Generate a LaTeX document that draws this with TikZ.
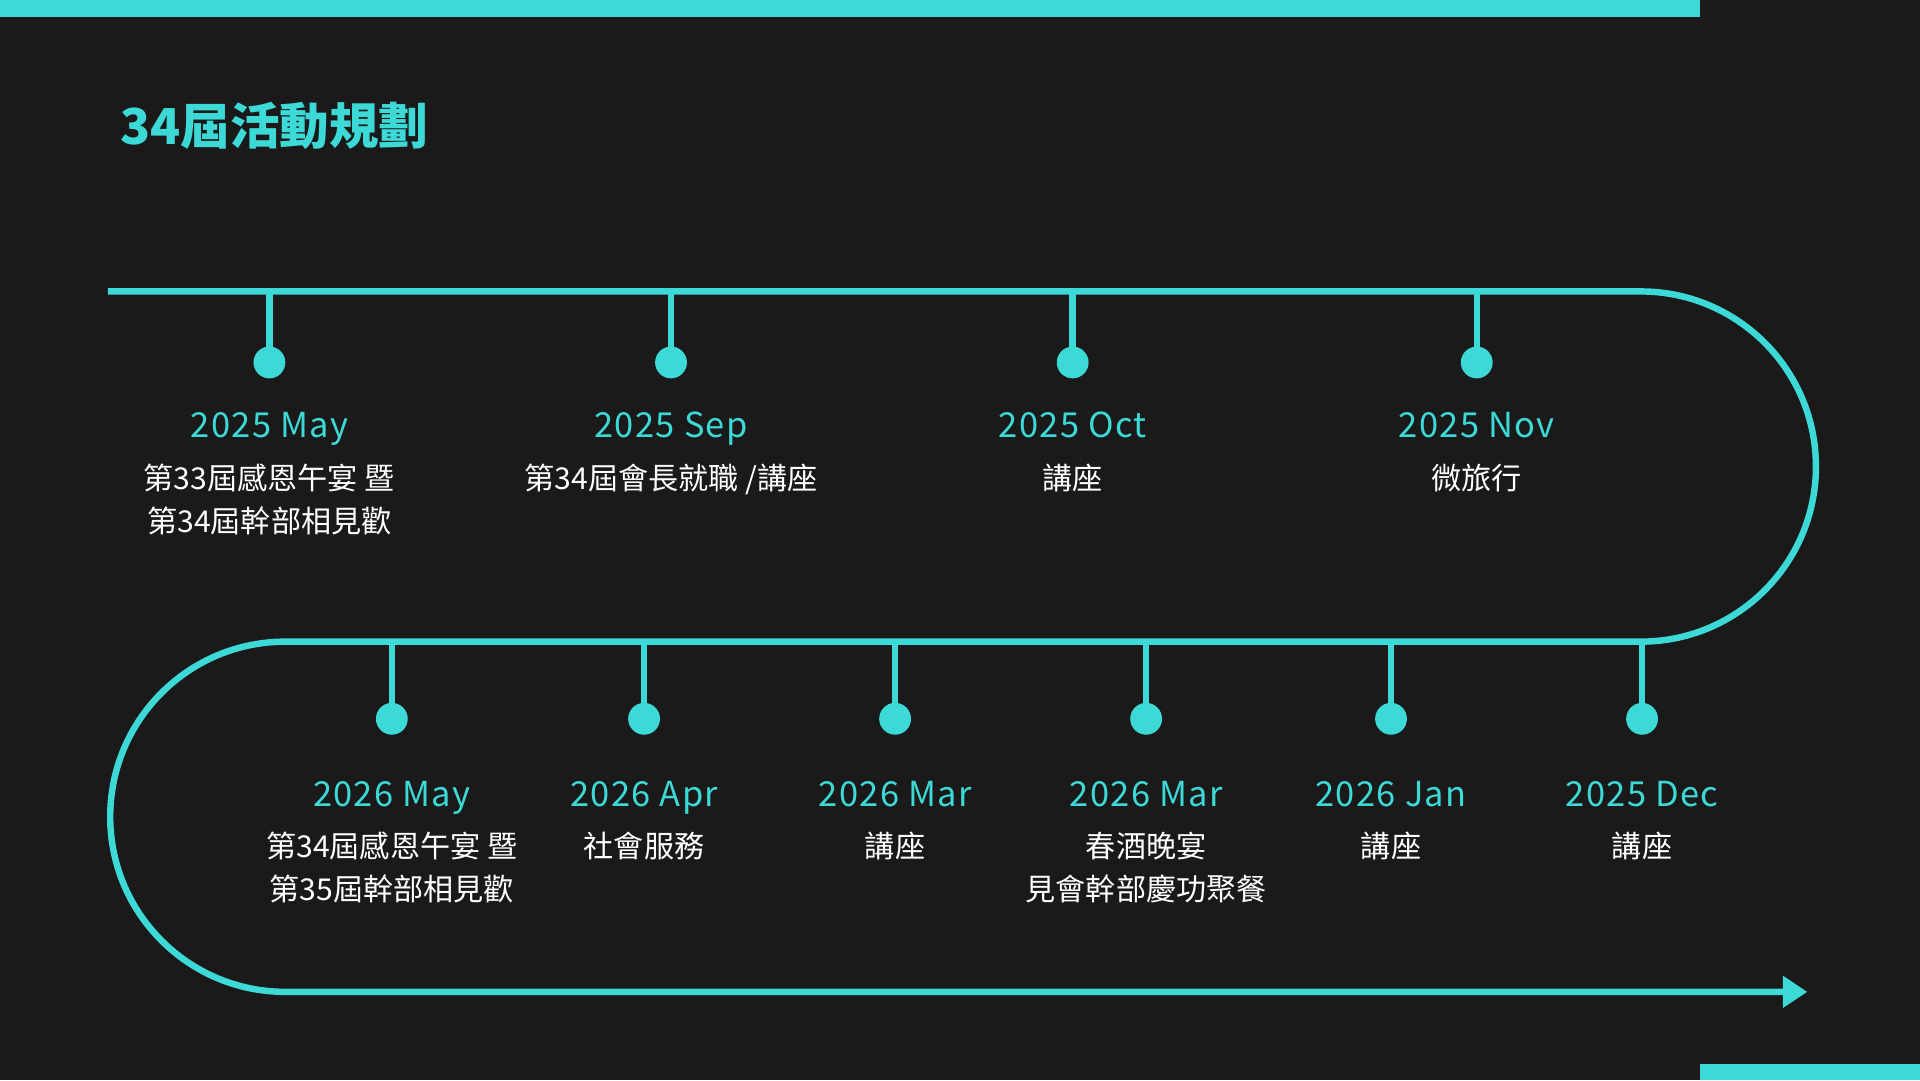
\documentclass[tikz,border=0pt]{standalone}
\usepackage{fontspec}
\setmainfont{Noto Sans CJK TC}
\usetikzlibrary{positioning}
\usetikzlibrary{arrows.meta}
\definecolor{bgdark}{HTML}{1A1A1A}
\definecolor{teal}{HTML}{3DD9D6}
\begin{document}
\begin{tikzpicture}[
  road/.style={draw=teal, line width=1.5pt},
  pin/.style={circle, fill=teal, inner sep=0pt, minimum size=0.26cm},
  datelbl/.style={text=teal, font=\fontsize{8}{10}\selectfont\addfontfeature{LetterSpace=4}, inner sep=0pt, anchor=base},
  evtlbl/.style={text=white, font=\fontsize{7}{10}\selectfont, align=center, inner sep=0pt, anchor=north}]

% background and bars
\fill[bgdark] (0,0) rectangle (15.68,8.82);
\fill[teal] (0,8.82) rectangle (13.88,8.68);
\fill[teal] (13.88,0) rectangle (15.68,0.13);

\node[anchor=west, text=teal, font=\fontsize{11.5}{14}\selectfont\bfseries] (title) at (0.86,7.79) {34屆活動規劃};

% road
\draw[road, -{Triangle[length=0.2cm,width=0.25cm]}] (0.88,6.44) -- (13.40,6.44) arc(90:-90:1.43)
  -- (2.33,3.58) arc(90:270:1.43) -- (14.76,0.72);

% 1st row
\foreach \x/\n/\d/\t in {2.20/a/2025 May/{第33屆感恩午宴 暨\\第34屆幹部相見歡},
                         5.48/b/2025 Sep/{第34屆會長就職 /講座},
                         8.76/c/2025 Oct/講座,
                         12.06/d/2025 Nov/微旅行} {
  \coordinate (top\n) at (\x,6.44);
  \node[pin] (pin\n) at (\x,5.86) {};
  \draw[road] (top\n) -- (pin\n.center);
  \node[datelbl] (date\n) at (\x,5.25) {\d};
  \node[evtlbl] (evt\n) at (\x,5.04) {\t};
}

% 2nd row
\foreach \x/\n/\d/\t in {3.20/e/2026 May/{第34屆感恩午宴 暨\\第35屆幹部相見歡},
                         5.26/f/2026 Apr/社會服務,
                         7.31/g/2026 Mar/講座,
                         9.36/h/2026 Mar/{春酒晚宴\\見會幹部慶功聚餐},
                         11.36/i/2026 Jan/講座,
                         13.41/j/2025 Dec/講座} {
  \coordinate (top\n) at (\x,3.58);
  \node[pin] (pin\n) at (\x,2.95) {};
  \draw[road] (top\n) -- (pin\n.center);
  \node[datelbl] (date\n) at (\x,2.23) {\d};
  \node[evtlbl] (evt\n) at (\x,2.03) {\t};
}
\end{tikzpicture}
\end{document}
